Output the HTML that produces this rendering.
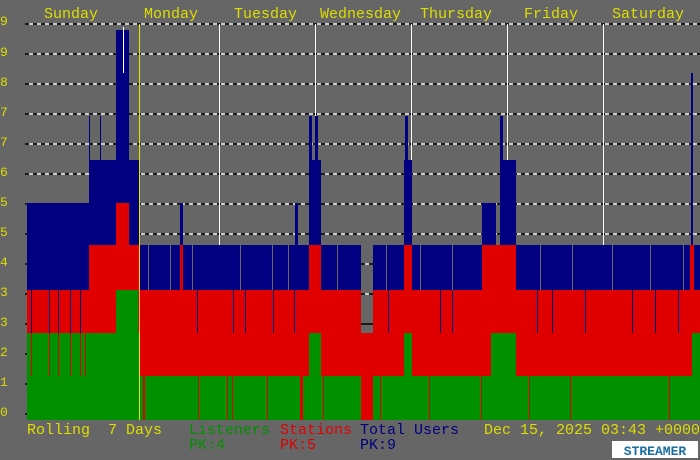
<!DOCTYPE html>
<html><head><style>
body{margin:0;background:#666;}
svg{display:block}
text{font-family:"Liberation Mono",monospace;white-space:pre;}
</style></head><body>
<svg width="700" height="460" viewBox="0 0 700 460" xmlns="http://www.w3.org/2000/svg" xml:space="preserve">
<rect width="700" height="460" fill="#666"/>
<g fill="#dede00" font-size="15">
<text x="44" y="18">Sunday</text><text x="144" y="18">Monday</text><text x="234" y="18">Tuesday</text>
<text x="320" y="18">Wednesday</text><text x="420" y="18">Thursday</text><text x="524" y="18">Friday</text><text x="612" y="18">Saturday</text>
</g>
<g fill="#dede00" font-size="13">
<text x="0" y="25">9</text><text x="0" y="56">9</text><text x="0" y="86">8</text><text x="0" y="116">7</text><text x="0" y="146">7</text><text x="0" y="176">6</text><text x="0" y="206">5</text><text x="0" y="236">5</text><text x="0" y="266">4</text><text x="0" y="296">3</text><text x="0" y="326">3</text><text x="0" y="356">2</text><text x="0" y="386">1</text><text x="0" y="416">0</text>
</g>
<g id="grid">
<g stroke="#000" stroke-width="1.5">
<line x1="25" x2="700" y1="24" y2="24"/><line x1="25" x2="700" y1="54" y2="54"/><line x1="25" x2="700" y1="84" y2="84"/><line x1="25" x2="700" y1="114" y2="114"/><line x1="25" x2="700" y1="144" y2="144"/><line x1="25" x2="700" y1="174" y2="174"/><line x1="25" x2="700" y1="204" y2="204"/><line x1="25" x2="700" y1="234" y2="234"/><line x1="25" x2="700" y1="264" y2="264"/><line x1="25" x2="700" y1="294" y2="294"/><line x1="25" x2="700" y1="324" y2="324"/><line x1="25" x2="700" y1="354" y2="354"/><line x1="25" x2="700" y1="384" y2="384"/><line x1="25" x2="700" y1="414" y2="414"/>
</g>
<g stroke="#fff" stroke-width="1.5" stroke-dasharray="4,4">
<line x1="29" x2="700" y1="24" y2="24"/><line x1="29" x2="700" y1="54" y2="54"/><line x1="29" x2="700" y1="84" y2="84"/><line x1="29" x2="700" y1="114" y2="114"/><line x1="29" x2="700" y1="144" y2="144"/><line x1="29" x2="700" y1="174" y2="174"/><line x1="29" x2="700" y1="204" y2="204"/><line x1="29" x2="700" y1="234" y2="234"/><line x1="29" x2="700" y1="264" y2="264"/><line x1="29" x2="700" y1="294" y2="294"/>
</g>
<g stroke="#fff" stroke-width="1"><line x1="219.5" x2="219.5" y1="24" y2="420"/><line x1="315.5" x2="315.5" y1="24" y2="420"/><line x1="411.5" x2="411.5" y1="24" y2="420"/><line x1="507.5" x2="507.5" y1="24" y2="420"/><line x1="603.5" x2="603.5" y1="24" y2="420"/><line x1="123.5" x2="123.5" y1="27" y2="420"/></g>
</g>
<g fill="#000080">
<rect x="27" y="203" width="62" height="217"/>
<rect x="89" y="116" width="1" height="304"/><rect x="100" y="116" width="1" height="304"/>
<rect x="89" y="160" width="27" height="260"/>
<rect x="116" y="30" width="7" height="390"/><rect x="124" y="30" width="5" height="390"/><rect x="121" y="73" width="3" height="347"/>
<rect x="129" y="160" width="10" height="260"/>
<rect x="139" y="245" width="222" height="175"/>
<rect x="180" y="203" width="3" height="217"/><rect x="295" y="203" width="3" height="217"/>
<rect x="309" y="116" width="3" height="304"/><rect x="315" y="116" width="3" height="304"/><rect x="309" y="160" width="12" height="260"/>
<rect x="373" y="245" width="327" height="175"/>
<rect x="405" y="116" width="3" height="304"/><rect x="404" y="160" width="8" height="260"/>
<rect x="482" y="203" width="14" height="217"/><rect x="500" y="116" width="3" height="304"/><rect x="500" y="160" width="16" height="260"/>
<rect x="691" y="73" width="2" height="347"/>
</g>
<g fill="#666">
<rect x="148" y="245" width="1" height="45"/><rect x="170" y="245" width="1" height="45"/><rect x="192" y="245" width="1" height="45"/><rect x="240" y="245" width="1" height="45"/><rect x="272" y="245" width="1" height="45"/><rect x="288" y="245" width="1" height="45"/><rect x="337" y="245" width="1" height="45"/>
<rect x="386" y="245" width="1" height="45"/><rect x="420" y="245" width="1" height="45"/><rect x="452" y="245" width="1" height="45"/><rect x="540" y="245" width="1" height="45"/><rect x="572" y="245" width="1" height="45"/><rect x="612" y="245" width="1" height="45"/><rect x="650" y="245" width="1" height="45"/><rect x="683" y="245" width="1" height="45"/>
</g>
<g fill="#e00000">
<rect x="27" y="290" width="62" height="130"/>
<rect x="89" y="245" width="27" height="175"/>
<rect x="116" y="203" width="13" height="217"/>
<rect x="129" y="245" width="10" height="175"/>
<rect x="139" y="290" width="170" height="130"/>
<rect x="180" y="245" width="3" height="175"/>
<rect x="309" y="245" width="12" height="175"/>
<rect x="321" y="290" width="40" height="130"/>
<rect x="361" y="333" width="12" height="87"/>
<rect x="373" y="290" width="327" height="130"/>
<rect x="404" y="245" width="8" height="175"/><rect x="482" y="245" width="34" height="175"/><rect x="690" y="245" width="4" height="175"/>
</g>
<g fill="#000080">
<rect x="31" y="290" width="1" height="43"/><rect x="49" y="290" width="1" height="43"/><rect x="58" y="290" width="1" height="43"/><rect x="70" y="290" width="1" height="43"/><rect x="80" y="290" width="1" height="43"/>
<rect x="197" y="290" width="1" height="43"/><rect x="233" y="290" width="1" height="43"/><rect x="245" y="290" width="1" height="43"/><rect x="273" y="290" width="1" height="43"/><rect x="294" y="290" width="1" height="43"/>
<rect x="388" y="290" width="1" height="43"/><rect x="440" y="290" width="1" height="43"/><rect x="452" y="290" width="1" height="43"/><rect x="537" y="290" width="1" height="43"/><rect x="552" y="290" width="1" height="43"/><rect x="585" y="290" width="1" height="43"/><rect x="632" y="290" width="1" height="43"/><rect x="655" y="290" width="1" height="43"/><rect x="678" y="290" width="1" height="43"/>
</g>
<g fill="#009000">
<rect x="27" y="333" width="112" height="87"/>
<rect x="116" y="290" width="22" height="130"/>
<rect x="139" y="376" width="222" height="44"/>
<rect x="309" y="333" width="12" height="87"/>
<rect x="373" y="376" width="327" height="44"/>
<rect x="404" y="333" width="8" height="87"/>
<rect x="491" y="333" width="25" height="87"/>
<rect x="692" y="333" width="8" height="87"/>
</g>
<g fill="#e00000">
<rect x="31" y="333" width="1" height="43"/><rect x="49" y="333" width="1" height="43"/><rect x="58" y="333" width="1" height="43"/><rect x="70" y="333" width="1" height="43"/><rect x="80" y="333" width="1" height="43"/><rect x="85" y="333" width="1" height="43"/>
<rect x="143" y="376" width="2" height="44"/><rect x="198" y="376" width="1" height="44"/><rect x="227" y="376" width="1" height="44"/><rect x="232" y="376" width="1" height="44"/><rect x="267" y="376" width="1" height="44"/><rect x="300" y="376" width="3" height="44"/><rect x="323" y="376" width="1" height="44"/>
<rect x="380" y="376" width="1" height="44"/><rect x="429" y="376" width="1" height="44"/><rect x="481" y="376" width="1" height="44"/><rect x="529" y="376" width="1" height="44"/><rect x="570" y="376" width="1" height="44"/><rect x="669" y="376" width="1" height="44"/>
</g>
<line x1="139.5" x2="139.5" y1="24" y2="420" stroke="#e6e600" stroke-width="1"/>
<g font-size="15">
<text x="27" y="434" fill="#dede00">Rolling&#160; 7 Days</text>
<text x="189" y="434" fill="#009000">Listeners</text>
<text x="189" y="449" fill="#009000">PK:4</text>
<text x="280" y="434" fill="#e00000">Stations</text>
<text x="280" y="449" fill="#e00000">PK:5</text>
<text x="360" y="434" fill="#000080">Total Users</text>
<text x="360" y="449" fill="#000080">PK:9</text>
<text x="484" y="434" fill="#dede00">Dec 15, 2025 03:43 +0000</text>
</g>
<rect x="612" y="441" width="86" height="17" fill="#fff"/>
<text x="655" y="455" text-anchor="middle" font-family="Liberation Sans,sans-serif" font-weight="bold" font-size="13" fill="#1a6ea0">STREAMER</text>
</svg>
</body></html>
